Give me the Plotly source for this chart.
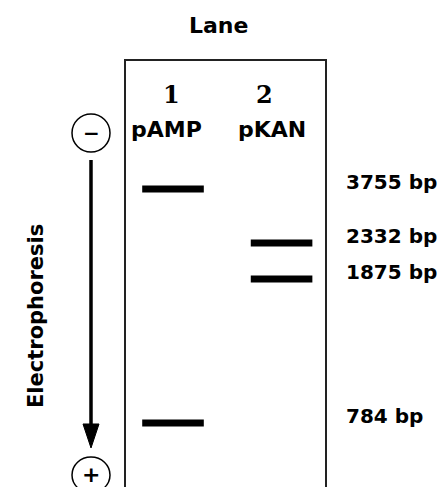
import plotly.graph_objects as go

# ---- data ----
lanes = [1, 2]
lane_numbers = ["1", "2"]
lane_names = ["pAMP", "pKAN"]
band_lane = [1, 2, 2, 1]
band_bp = [3755, 2332, 1875, 784]
band_migration = [128, 182, 218, 362]  # distance travelled from the wells (gel units)
size_labels = ["3755 bp", "2332 bp", "1875 bp", "784 bp"]
gel_length = 433

# ---- geometry helpers (pixel -> paper) ----
W, H = 445, 487
L, R, T, B = 118, 317, 53, 486


def px(x):
    return (x - L) / (R - L)


def py(y):
    return 1 - (y - T) / (B - T)


SANS = "DejaVu Sans"
BLACK = "black"
fig = go.Figure()
fig.add_trace(go.Scatter(
    x=band_lane, y=band_migration, mode="markers",
    marker=dict(symbol="line-ew", size=44, color=BLACK,
                line=dict(width=7, color=BLACK)),
    hoverinfo="skip", showlegend=False))

annotations = []


def ann(**kw):
    d = dict(showarrow=False, xanchor="center", yanchor="middle")
    d.update(kw)
    annotations.append(d)


# lane numbers and plasmid names
for lane, num, sh in zip(lanes, lane_numbers, [-2, -17]):
    ann(x=lane, xref="x", y=py(86), yref="paper", text="<b>%s</b>" % num, xshift=sh,
        font=dict(family="DejaVu Serif", size=24, color=BLACK))
for lane, name, sh in zip(lanes, lane_names, [-7, -10]):
    ann(x=lane, xref="x", y=py(121), yref="paper", text="<b>%s</b>" % name, xshift=sh,
        font=dict(family=SANS, size=22, color=BLACK))
# size labels
for m, lab in zip(band_migration, size_labels):
    ann(x=1, xref="paper", y=m, yref="y", text="<b>%s</b>" % lab,
        xanchor="left", xshift=19, yshift=7,
        font=dict(family=SANS, size=20, color=BLACK))
# title
ann(x=px(210), y=py(18), xref="paper", yref="paper", text="<b>Lane</b>",
    font=dict(family=SANS, size=22, color=BLACK))
# electrophoresis label
ann(x=px(28), y=py(308), xref="paper", yref="paper", text="<b>Electrophoresis</b>",
    textangle=-90, font=dict(family=SANS, size=21, color=BLACK))
# minus / plus signs
ann(x=px(83), y=py(125), xref="paper", yref="paper", text="<b>\u2212</b>",
    font=dict(family=SANS, size=20, color=BLACK))
ann(x=px(83), y=py(466), xref="paper", yref="paper", text="<b>+</b>",
    font=dict(family=SANS, size=22, color=BLACK))

r = 19
arrow_path = "M %f,%f L %f,%f L %f,%f Z" % (px(75), py(416), px(91), py(416), px(83), py(440))
shapes = [
    dict(type="circle", xref="paper", yref="paper",
         x0=px(83 - r), x1=px(83 + r), y0=py(125 - r), y1=py(125 + r),
         line=dict(color=BLACK, width=1.5)),
    dict(type="circle", xref="paper", yref="paper",
         x0=px(83 - r), x1=px(83 + r), y0=py(467 - r + 1), y1=py(467 + r - 1),
         line=dict(color=BLACK, width=1.5)),
    dict(type="line", xref="paper", yref="paper",
         x0=px(83), x1=px(83), y0=py(152), y1=py(420),
         line=dict(color=BLACK, width=3.5)),
    dict(type="path", xref="paper", yref="paper", path=arrow_path,
         fillcolor=BLACK, line=dict(color=BLACK, width=1)),
]

fig.update_layout(
    width=W, height=H,
    margin=dict(l=L, r=W - R, t=T, b=H - B),
    paper_bgcolor="white", plot_bgcolor="white",
    xaxis=dict(range=[0.567, 2.4], showgrid=False, zeroline=False, showticklabels=False,
               ticks="", showline=True, mirror=True, linecolor="#222", linewidth=2),
    yaxis=dict(range=[gel_length, 0], showgrid=False, zeroline=False, showticklabels=False,
               ticks="", showline=True, mirror=True, linecolor="#222", linewidth=2),
    annotations=annotations, shapes=shapes, showlegend=False,
)
fig.write_html("out.html")
